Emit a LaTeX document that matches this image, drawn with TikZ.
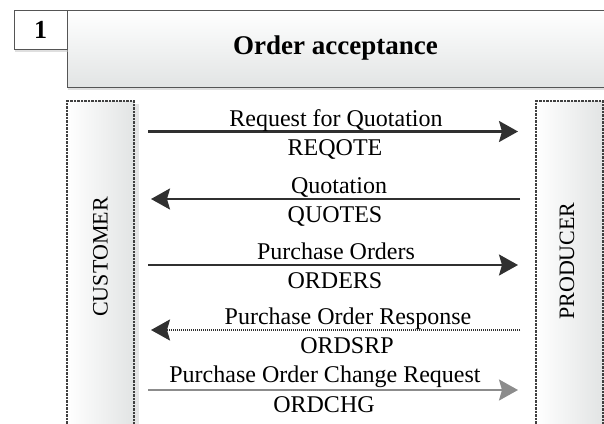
\documentclass[tikz,border=0pt]{standalone}
\usepackage{fontspec}
\setmainfont{Liberation Serif}
\usepackage{tikz}
\usetikzlibrary{arrows.meta, shadows}
\definecolor{linegray}{HTML}{303030}
\definecolor{lightarrow}{HTML}{8C8C8C}
\definecolor{framegray}{HTML}{555555}
\definecolor{dashgray}{HTML}{404040}
\definecolor{fadegray}{HTML}{E2E4E4}
\tikzstyle{numbox} = [rectangle, draw=framegray, fill=white, minimum width=53pt, minimum height=39pt, font=\fontsize{26}{30}\selectfont\bfseries, drop shadow={shadow xshift=1pt, shadow yshift=-3pt, fill=black!25}]
\tikzstyle{titlebox} = [rectangle, draw=framegray, top color=white, bottom color=fadegray, minimum width=537pt, minimum height=77pt, font=\fontsize{27}{32}\selectfont\bfseries, drop shadow={shadow xshift=1pt, shadow yshift=-3pt, fill=black!25}]
\tikzstyle{party} = [rectangle, draw=dashgray, dash pattern=on 2.5pt off 1pt, line width=1.1pt, left color=white, right color=fadegray, minimum width=67pt, minimum height=330pt, drop shadow={shadow xshift=5pt, shadow yshift=-3pt, fill=black!20}]
\tikzstyle{partytext} = [rotate=90, font=\fontsize{22}{26}\selectfont]
\tikzstyle{msgtext} = [anchor=base, inner sep=0pt, font=\fontsize{24}{28}\selectfont]
\tikzstyle{arrow} = [line width=2.2pt, draw=linegray, -{Stealth[length=19pt,width=21pt,inset=3pt]}]

\begin{document}
\begin{tikzpicture}[x=1pt, y=-1pt]
\useasboundingbox (0,0) rectangle (604,423);
\clip (0,0) rectangle (604,423);

% header
\node (title) [titlebox] at (335.5,48.5) {Order acceptance};
\node (num) [numbox] at (40.5,29.5) {1};

% partners
\node (customer) [party] at (100.5,266) {};
\node (producer) [party] at (569.5,266) {};
\node (customer_txt) [partytext] at (100.5,257) {CUSTOMER};
\node (producer_txt) [partytext] at (567,261) {PRODUCER};

% message ends
\coordinate (c1) at (148,131.5);
\coordinate (p1) at (518,131.5);
\coordinate (c2) at (151,199);
\coordinate (p2) at (520,199);
\coordinate (c3) at (148,265);
\coordinate (p3) at (518,265);
\coordinate (c4) at (151,330);
\coordinate (p4) at (520,330);
\coordinate (c5) at (148,390);
\coordinate (p5) at (518,390);

\draw [arrow] (c1) -- (p1);
\draw [arrow] (p2) -- (c2);
\draw [arrow] (c3) -- (p3);
\draw [arrow, dash pattern=on 1.2pt off 0.8pt] (p4) -- (c4);
\draw [arrow, draw=lightarrow, fill=lightarrow] (c5) -- (p5);

\node (rfq) [msgtext] at (336,126) {Request for Quotation};
\node (reqote) [msgtext] at (335,155) {REQOTE};
\node (quot) [msgtext] at (339,193) {Quotation};
\node (quotes) [msgtext] at (335,222) {QUOTES};
\node (po) [msgtext] at (336,259.5) {Purchase Orders};
\node (orders) [msgtext] at (335,288) {ORDERS};
\node (por) [msgtext] at (348,324) {Purchase Order Response};
\node (ordsrp) [msgtext] at (347,353) {ORDSRP};
\node (pocr) [msgtext] at (325,382) {Purchase Order Change Request};
\node (ordchg) [msgtext] at (324,412) {ORDCHG};

\end{tikzpicture}
\end{document}
